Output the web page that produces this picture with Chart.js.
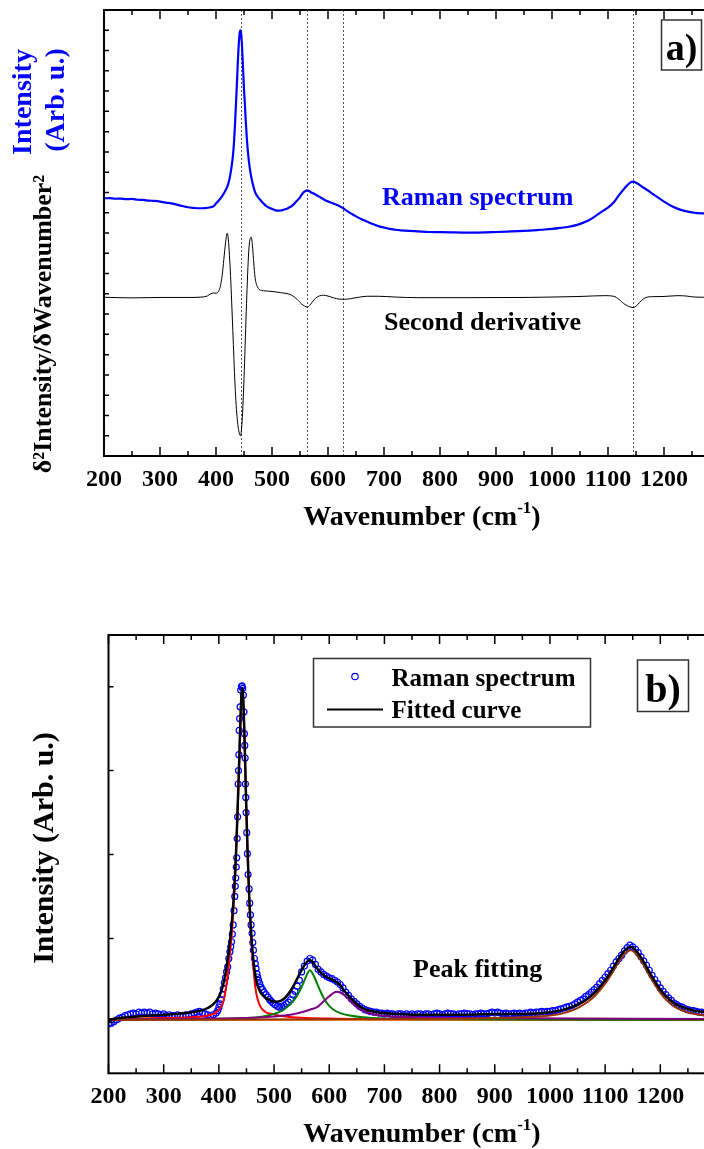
<!DOCTYPE html>
<html>
<head>
<meta charset="utf-8">
<script src="https://cdn.jsdelivr.net/npm/chart.js@4.4.1/dist/chart.umd.min.js"></script>
<style>
    html, body { margin: 0; padding: 0; background: #fff; overflow: hidden; width: 704px; height: 1149px; }
    canvas { position: absolute; left: 0; }
    #panelA { top: 0; }
    #panelB { top: 560px; }
</style>
</head>
<body>
<canvas id="panelA" width="724" height="560"></canvas>
<canvas id="panelB" width="724" height="589"></canvas>
<script>
// shared x axis
const xMajorTicks = [200, 300, 400, 500, 600, 700, 800, 900, 1000, 1100, 1200, 1300]
const xMinorTicks = [250, 350, 450, 550, 650, 750, 850, 950, 1050, 1150, 1250]
const xTickLabels = [200, 300, 400, 500, 600, 700, 800, 900, 1000, 1100, 1200]

// panel a) - Raman spectrum and its second derivative (arb. units)
const ramanAX = [200, 210, 220, 230, 240, 250, 260, 270, 280, 290, 300, 310, 320, 330, 340, 350, 360, 370, 380, 390,
    396, 400, 405, 410, 415, 420, 424, 427, 430, 432, 434, 436, 438, 440, 442, 443.5, 445, 446.5, 448, 450,
    451.5, 453, 455, 457, 460, 463, 466, 470, 475, 480, 485, 490, 495, 500, 505, 510, 515, 520, 525, 530,
    535, 540, 545, 550, 556, 560, 563, 567, 570, 575, 580, 585, 590, 595, 600, 605, 610, 615, 620, 627,
    633, 640, 650, 660, 670, 680, 690, 700, 710, 720, 730, 745, 760, 780, 800, 820, 840, 860, 880, 900,
    920, 940, 960, 980, 1000, 1015, 1030, 1045, 1055, 1065, 1075, 1085, 1095, 1100, 1110, 1120, 1130, 1138, 1145, 1152,
    1160, 1170, 1185, 1200, 1215, 1230, 1245, 1260, 1280, 1300]
const ramanAY = [12.71, 12.72, 12.69, 12.70, 12.67, 12.68, 12.64, 12.63, 12.60, 12.58, 12.55, 12.50, 12.46, 12.40, 12.33, 12.27, 12.24, 12.22, 12.23, 12.27,
    12.33, 12.45, 12.60, 12.78, 13.0, 13.27, 13.65, 14.11, 14.75, 15.4, 16.4, 17.56, 18.8, 20.0, 20.8, 21.0, 20.8, 20.2, 19.3, 18.1,
    17.4, 16.6, 15.7, 15.0, 14.26, 13.75, 13.38, 13.0, 12.77, 12.6, 12.45, 12.33, 12.25, 12.19, 12.13, 12.10, 12.11, 12.14, 12.18, 12.25,
    12.33, 12.45, 12.6, 12.76, 13.0, 13.07, 13.1, 13.06, 13.0, 12.94, 12.86, 12.78, 12.7, 12.62, 12.56, 12.5, 12.45, 12.4, 12.33, 12.23,
    12.1, 11.98, 11.82, 11.68, 11.56, 11.44, 11.34, 11.27, 11.2, 11.16, 11.13, 11.1, 11.08, 11.05, 11.04, 11.03, 11.02, 11.02, 11.03, 11.05,
    11.07, 11.09, 11.12, 11.16, 11.2, 11.25, 11.31, 11.4, 11.5, 11.62, 11.78, 11.98, 12.16, 12.25, 12.5, 12.88, 13.22, 13.45, 13.53, 13.45,
    13.3, 13.12, 12.83, 12.55, 12.31, 12.14, 12.04, 11.98, 11.96, 11.96]

const derivX = [200, 250, 300, 350, 375, 385, 390, 396, 401, 405, 408, 411, 414, 417, 420, 422, 424, 426, 428, 430,
    432, 434, 436, 438, 440, 442, 443.5, 445, 447, 449, 451, 453, 455, 457, 459, 461, 463, 465, 467, 469,
    471, 474, 478, 485, 495, 505, 515, 525, 535, 545, 553, 558, 563, 567, 572, 578, 585, 592, 600, 610,
    620, 630, 640, 655, 670, 690, 720, 760, 850, 950, 1000, 1050, 1095, 1110, 1120, 1128, 1137, 1145, 1152, 1160,
    1168, 1180, 1200, 1225, 1240, 1255, 1280, 1300]
const derivY = [7.83, 7.80, 7.82, 7.82, 7.84, 7.9, 8.0, 8.04, 8.03, 8.15, 8.4, 8.9, 9.7, 10.5, 10.99, 10.7, 9.9, 8.9, 7.6, 6.2,
    4.8, 3.5, 2.5, 1.8, 1.35, 1.08, 0.99, 1.15, 1.9, 3.1, 4.6, 6.3, 7.9, 9.3, 10.3, 10.72, 10.79, 10.4, 9.7, 9.0,
    8.6, 8.35, 8.2, 8.15, 8.13, 8.1, 8.06, 8.02, 7.94, 7.72, 7.5, 7.4, 7.34, 7.42, 7.6, 7.79, 7.9, 7.93, 7.89, 7.8,
    7.74, 7.73, 7.76, 7.83, 7.88, 7.88, 7.84, 7.81, 7.81, 7.82, 7.84, 7.87, 7.91, 7.88, 7.72, 7.52, 7.38, 7.32, 7.44, 7.68,
    7.82, 7.86, 7.87, 7.91, 7.89, 7.84, 7.83, 7.83]

const markerLines = [444, 563, 627, 1145]
const yTicksA = [1, 2, 3, 4, 5, 6, 7, 8, 9, 10, 11, 12, 13, 14, 15, 16, 17, 18, 19, 20, 21]

// panel b) - measured points, fitted curve and fitted components
const ramanBX = [200, 205, 210, 215, 220, 225, 230, 235, 240, 245, 250, 255, 260, 265, 270, 275, 280, 285, 290, 295,
    300, 305, 310, 315, 320, 325, 330, 335, 340, 345, 350, 355, 360, 365, 370, 375, 380, 385, 390, 395,
    398, 400, 402, 404, 406, 408, 410, 412, 414, 416, 418, 420, 421.5, 423, 424.5, 426, 427.5, 428.8, 429.8, 430.6,
    431.6, 432.4, 433.2, 434, 434.9, 435.6, 436.2, 436.8, 437.7, 438.5, 439.6, 441, 442.1, 443.3, 444.5, 445.5, 446.3, 447, 447.6, 448.1,
    448.8, 449.4, 450.5, 451.7, 453, 454.8, 455.9, 457.2, 458.4, 460.2, 461.5, 462.6, 464.4, 466, 467.5, 469, 470.4, 472, 474, 476.5,
    479, 482, 485.5, 489, 492, 495, 498, 502, 506, 510, 514, 518, 522, 526, 530, 534, 538, 542, 546,
    550, 555, 560, 565, 570, 575, 580, 585, 590, 595, 600, 605, 610, 615, 620, 625, 630, 635, 640, 645,
    650, 655, 660, 665, 670, 675, 680, 685, 690, 695, 700, 705, 710, 715, 720, 725, 730, 735, 740, 745,
    750, 755, 760, 765, 770, 775, 780, 785, 790, 795, 800, 805, 810, 815, 820, 825, 830, 835, 840, 845,
    850, 855, 860, 865, 870, 875, 880, 885, 890, 895, 900, 905, 910, 915, 920, 925, 930, 935, 940, 945,
    950, 955, 960, 965, 970, 975, 980, 985, 990, 995, 1000, 1005, 1010, 1015, 1020, 1025, 1030, 1035, 1040, 1045,
    1050, 1055, 1060, 1065, 1070, 1075, 1080, 1085, 1090, 1095, 1100, 1105, 1110, 1115, 1120, 1125, 1130, 1135, 1140, 1145,
    1150, 1155, 1160, 1165, 1170, 1175, 1180, 1185, 1190, 1195, 1200, 1205, 1210, 1215, 1220, 1225, 1230, 1235, 1240, 1245,
    1250, 1255, 1260, 1265, 1270, 1275, 1280, 1285, 1290, 1295, 1300]
const ramanBY = [-0.02, -0.01, 0.01, 0.03, 0.05, 0.06, 0.08, 0.09, 0.1, 0.11, 0.1, 0.12, 0.11, 0.12, 0.11, 0.12, 0.1, 0.11, 0.1, 0.09,
    0.1, 0.08, 0.09, 0.08, 0.08, 0.09, 0.08, 0.07, 0.09, 0.08, 0.1, 0.11, 0.12, 0.13, 0.11, 0.1, 0.09, 0.08, 0.09, 0.11,
    0.14, 0.18, 0.22, 0.27, 0.33, 0.4, 0.47, 0.53, 0.6, 0.66, 0.76, 0.84, 0.9, 0.96, 1.05, 1.16, 1.33, 1.5, 1.62, 1.72,
    1.85, 1.96, 2.19, 2.45, 2.84, 3.0, 3.19, 3.48, 3.62, 3.76, 3.96, 4.0, 4.01, 3.98, 3.9, 3.7, 3.44, 3.3, 3.15, 2.84,
    2.68, 2.5, 2.26, 2.01, 1.76, 1.59, 1.42, 1.28, 1.16, 1.06, 0.95, 0.86, 0.76, 0.7, 0.64, 0.58, 0.54, 0.5, 0.46, 0.42,
    0.39, 0.36, 0.33, 0.3, 0.27, 0.25, 0.23, 0.21, 0.19, 0.18, 0.19, 0.2, 0.22, 0.24, 0.27, 0.33, 0.37, 0.43, 0.5,
    0.6, 0.67, 0.73, 0.76, 0.74, 0.69, 0.63, 0.6, 0.57, 0.55, 0.53, 0.52, 0.5, 0.48, 0.45, 0.41, 0.36, 0.32, 0.28, 0.25,
    0.22, 0.19, 0.17, 0.15, 0.14, 0.13, 0.12, 0.12, 0.11, 0.11, 0.1, 0.11, 0.1, 0.1, 0.09, 0.1, 0.1, 0.09, 0.1, 0.09,
    0.1, 0.09, 0.1, 0.1, 0.09, 0.1, 0.1, 0.09, 0.1, 0.11, 0.1, 0.09, 0.1, 0.11, 0.1, 0.1, 0.09, 0.1, 0.1, 0.11,
    0.1, 0.1, 0.09, 0.1, 0.1, 0.11, 0.1, 0.1, 0.11, 0.12, 0.11, 0.12, 0.11, 0.1, 0.11, 0.1, 0.1, 0.11, 0.1, 0.11,
    0.1, 0.11, 0.11, 0.12, 0.11, 0.12, 0.12, 0.13, 0.12, 0.13, 0.13, 0.14, 0.14, 0.15, 0.16, 0.17, 0.18, 0.19, 0.2, 0.22,
    0.24, 0.26, 0.28, 0.31, 0.33, 0.36, 0.39, 0.42, 0.46, 0.5, 0.54, 0.58, 0.62, 0.67, 0.72, 0.76, 0.8, 0.85, 0.89, 0.92,
    0.9, 0.87, 0.83, 0.78, 0.73, 0.68, 0.62, 0.56, 0.51, 0.46, 0.41, 0.37, 0.33, 0.29, 0.26, 0.23, 0.21, 0.19, 0.18, 0.16,
    0.15, 0.14, 0.14, 0.13, 0.12, 0.12, 0.11, 0.11, 0.1, 0.1, 0.1]

const fitX = [200, 220, 250, 300, 340, 360, 380, 395, 405, 412, 418, 423, 427, 431, 434, 437, 439, 441, 442.5, 444,
    446, 448, 450, 452, 455, 458, 462, 466, 470, 476, 485, 495, 505, 515, 525, 535, 545, 555, 564, 570,
    577, 585, 595, 605, 613, 620, 628, 636, 645, 655, 667, 680, 697, 720, 760, 800, 850, 900, 950, 1000,
    1030, 1050, 1070, 1085, 1100, 1112, 1122, 1132, 1140, 1146, 1152, 1160, 1170, 1180, 1190, 1200, 1212, 1225, 1240, 1255,
    1270, 1285, 1300]
const fitY = [0.03, 0.05, 0.07, 0.09, 0.11, 0.13, 0.17, 0.25, 0.38, 0.58, 0.85, 1.15, 1.5, 2.0, 2.55, 3.15, 3.6, 3.9, 3.98, 3.88,
    3.5, 3.0, 2.5, 2.05, 1.5, 1.12, 0.78, 0.56, 0.44, 0.35, 0.29, 0.255, 0.245, 0.265, 0.33, 0.43, 0.56, 0.68, 0.74, 0.72,
    0.65, 0.59, 0.54, 0.51, 0.48, 0.44, 0.37, 0.31, 0.25, 0.19, 0.15, 0.13, 0.11, 0.1, 0.09, 0.09, 0.09, 0.1, 0.1, 0.12,
    0.16, 0.21, 0.29, 0.38, 0.5, 0.62, 0.73, 0.83, 0.88, 0.9, 0.88, 0.82, 0.72, 0.6, 0.49, 0.39, 0.3, 0.23, 0.18, 0.15,
    0.13, 0.12, 0.11]

const redX = [200, 300, 350, 380, 400, 410, 420, 425, 430, 435, 438, 440, 442, 444, 446, 448, 450, 452, 455, 458,
    462, 466, 470, 476, 485, 495, 520, 600, 800, 1300]
const redY = [0.04, 0.05, 0.06, 0.08, 0.15, 0.3, 0.8, 1.2, 1.8, 2.7, 3.3, 3.75, 3.96, 3.85, 3.5, 3.0, 2.45, 2.0, 1.45, 1.05,
    0.7, 0.42, 0.28, 0.18, 0.12, 0.1, 0.07, 0.045, 0.035, 0.03]

const greenX = [200, 400, 450, 480, 500, 515, 530, 540, 550, 557, 562, 565, 568, 573, 578, 584, 590, 598, 608, 620,
    637, 660, 700, 800, 1300]
const greenY = [0.03, 0.04, 0.05, 0.07, 0.1, 0.14, 0.22, 0.3, 0.42, 0.53, 0.6, 0.62, 0.6, 0.54, 0.46, 0.37, 0.29, 0.21, 0.15, 0.11,
    0.08, 0.06, 0.045, 0.035, 0.03]

const purpleX = [200, 400, 450, 500, 530, 550, 565, 578, 590, 600, 608, 614, 620, 628, 636, 645, 655, 667, 680, 700,
    750, 850, 1300]
const purpleY = [0.03, 0.045, 0.05, 0.07, 0.09, 0.12, 0.15, 0.18, 0.25, 0.31, 0.35, 0.365, 0.355, 0.32, 0.27, 0.21, 0.16, 0.12, 0.095, 0.075,
    0.06, 0.05, 0.04]

const brownX = [200, 800, 950, 1000, 1030, 1050, 1070, 1085, 1100, 1112, 1122, 1132, 1140, 1146, 1152, 1160, 1170, 1180, 1190, 1200,
    1212, 1225, 1240, 1255, 1270, 1285, 1300]
const brownY = [0.03, 0.04, 0.06, 0.08, 0.12, 0.17, 0.25, 0.34, 0.46, 0.58, 0.69, 0.79, 0.84, 0.86, 0.84, 0.78, 0.68, 0.56, 0.45, 0.35,
    0.26, 0.19, 0.14, 0.11, 0.09, 0.08, 0.07]

const orangeX = [200, 1300]
const orangeY = [0.03, 0.03]

const yTicksB = [0, 1, 2, 3, 4]

const serif = '"Liberation Serif", "Times New Roman", serif'

function toPoints(xs, ys) {
    return xs.map((x, i) => ({ x: x, y: ys[i] }))
}

function vText(ctx, text, x, y, size, color) {
    ctx.save()
    ctx.translate(x, y)
    ctx.rotate(-Math.PI / 2)
    ctx.font = 'bold ' + size + 'px ' + serif
    ctx.fillStyle = color
    ctx.textAlign = 'center'
    ctx.textBaseline = 'alphabetic'
    ctx.fillText(text, 0, 0)
    ctx.restore()
}

function hText(ctx, text, x, y, size, color, align) {
    ctx.font = 'bold ' + size + 'px ' + serif
    ctx.fillStyle = color
    ctx.textAlign = align || 'left'
    ctx.textBaseline = 'alphabetic'
    ctx.fillText(text, x, y)
}

function drawFrame(chart, yTicks, yTickLen) {
    const ctx = chart.ctx
    const area = chart.chartArea
    const xScale = chart.scales.x
    const yScale = chart.scales.y
    ctx.save()
    ctx.strokeStyle = '#000'
    ctx.lineWidth = 1.5
    ctx.beginPath()
    xMajorTicks.forEach(v => {
        const px = xScale.getPixelForValue(v)
        ctx.moveTo(px, area.bottom); ctx.lineTo(px, area.bottom - 9)
        ctx.moveTo(px, area.top); ctx.lineTo(px, area.top + 9)
    })
    xMinorTicks.forEach(v => {
        const px = xScale.getPixelForValue(v)
        ctx.moveTo(px, area.bottom); ctx.lineTo(px, area.bottom - 5)
        ctx.moveTo(px, area.top); ctx.lineTo(px, area.top + 5)
    })
    yTicks.forEach(v => {
        const py = yScale.getPixelForValue(v)
        ctx.moveTo(area.left, py); ctx.lineTo(area.left + yTickLen, py)
        ctx.moveTo(area.right, py); ctx.lineTo(area.right - yTickLen, py)
    })
    ctx.stroke()
    ctx.lineWidth = 2
    ctx.strokeRect(area.left, area.top, area.right - area.left, area.bottom - area.top)

    xTickLabels.forEach(v => hText(ctx, String(v), xScale.getPixelForValue(v), area.bottom + 30, 24, '#000', 'center'))

    // Wavenumber (cm^-1) with a real superscript
    const cx = (area.left + area.right) / 2 + 10
    const base = area.bottom + 69
    ctx.font = 'bold 28px ' + serif
    const w1 = ctx.measureText('Wavenumber (cm').width
    const w3 = ctx.measureText(')').width
    ctx.font = 'bold 17px ' + serif
    const w2 = ctx.measureText('-1').width
    let x0 = cx - (w1 + w2 + w3) / 2
    hText(ctx, 'Wavenumber (cm', x0, base, 28, '#000')
    hText(ctx, '-1', x0 + w1, base - 12, 17, '#000')
    hText(ctx, ')', x0 + w1 + w2, base, 28, '#000')
    ctx.restore()
}

function labelBox(ctx, text, left, top, right, bottom, size) {
    ctx.save()
    ctx.strokeStyle = '#333'
    ctx.lineWidth = 1.5
    ctx.strokeRect(left, top, right - left, bottom - top)
    hText(ctx, text, (left + right) / 2, bottom - 10, size, '#000', 'center')
    ctx.restore()
}

const panelAPlugin = {
    id: 'panelA',
    beforeDatasetsDraw(chart) {
        const ctx = chart.ctx
        const area = chart.chartArea
        ctx.save()
        ctx.strokeStyle = '#555'
        ctx.lineWidth = 1
        ctx.setLineDash([2, 2])
        ctx.beginPath()
        markerLines.forEach(v => {
            const px = Math.round(chart.scales.x.getPixelForValue(v)) + 0.5
            ctx.moveTo(px, area.top); ctx.lineTo(px, area.bottom)
        })
        ctx.stroke()
        ctx.restore()
    },
    afterDraw(chart) {
        const ctx = chart.ctx
        drawFrame(chart, yTicksA, 5)
        hText(ctx, 'Raman spectrum', 382, 205, 26, '#0000ff')
        hText(ctx, 'Second derivative', 384, 330, 26, '#000')
        labelBox(ctx, 'a)', 661.5, 20, 701.5, 70, 38)
        vText(ctx, 'Intensity', 31, 102, 28, '#0000ff')
        vText(ctx, '(Arb. u.)', 64, 100, 28, '#0000ff')
        vText(ctx, 'δ²Intensity/δWavenumber²', 51, 324, 26, '#000')
    }
}

const panelBPlugin = {
    id: 'panelB',
    afterDraw(chart) {
        const ctx = chart.ctx
        drawFrame(chart, yTicksB, 5)
        vText(ctx, 'Intensity (Arb. u.)', 53, 288, 30, '#000')
        hText(ctx, 'Peak fitting', 413, 417, 26, '#000')
        labelBox(ctx, 'b)', 637.5, 100, 688.5, 151.5, 40)

        // legend
        ctx.save()
        ctx.strokeStyle = '#333'
        ctx.lineWidth = 1.5
        ctx.strokeRect(313.5, 98.5, 277, 68.5)
        ctx.strokeStyle = '#0000ff'
        ctx.lineWidth = 1.2
        ctx.beginPath()
        ctx.arc(355, 116.5, 3.2, 0, Math.PI * 2)
        ctx.stroke()
        ctx.strokeStyle = '#000'
        ctx.lineWidth = 2
        ctx.beginPath()
        ctx.moveTo(327, 149.5); ctx.lineTo(383, 149.5)
        ctx.stroke()
        hText(ctx, 'Raman spectrum', 391.5, 126, 25, '#000')
        hText(ctx, 'Fitted curve', 391.5, 158, 25, '#000')
        ctx.restore()
    }
}

const lineStyle = (color, width, order) => ({
    showLine: true,
    borderColor: color,
    backgroundColor: color,
    borderWidth: width,
    pointRadius: 0,
    cubicInterpolationMode: 'monotone',
    order: order
})

new Chart(document.getElementById('panelA').getContext('2d'), {
    type: 'scatter',
    data: {
        datasets: [
            Object.assign({ label: 'Raman spectrum', data: toPoints(ramanAX, ramanAY) }, lineStyle('#0000ff', 2.2, 0)),
            Object.assign({ label: 'Second derivative', data: toPoints(derivX, derivY) }, lineStyle('#000', 1, 1))
        ]
    },
    options: {
        responsive: false,
        animation: false,
        devicePixelRatio: 1,
        layout: { padding: { left: 104, top: 10, right: 4, bottom: 104 } },
        plugins: { legend: { display: false }, tooltip: { enabled: false } },
        scales: {
            x: { type: 'linear', min: 200, max: 1300, display: false },
            y: { type: 'linear', min: 0, max: 22, display: false }
        }
    },
    plugins: [panelAPlugin]
});

new Chart(document.getElementById('panelB').getContext('2d'), {
    type: 'scatter',
    data: {
        datasets: [
            Object.assign({ label: 'Fitted curve', data: toPoints(fitX, fitY) }, lineStyle('#000', 2.5, 0)),
            Object.assign({ label: 'Peak 1145', data: toPoints(brownX, brownY) }, lineStyle('#993300', 2, 1)),
            Object.assign({ label: 'Peak 615', data: toPoints(purpleX, purpleY) }, lineStyle('#800080', 2, 2)),
            Object.assign({ label: 'Peak 563', data: toPoints(greenX, greenY) }, lineStyle('#008000', 2, 3)),
            Object.assign({ label: 'Peak 444', data: toPoints(redX, redY) }, lineStyle('#ff0000', 2, 4)),
            Object.assign({ label: 'Background', data: toPoints(orangeX, orangeY) }, lineStyle('#ff8000', 2, 5)),
            {
                label: 'Raman spectrum',
                data: toPoints(ramanBX, ramanBY),
                showLine: false,
                pointStyle: 'circle',
                pointRadius: 3,
                pointBorderWidth: 1.2,
                pointBorderColor: '#0000ff',
                pointBackgroundColor: 'rgba(0,0,0,0)',
                order: 6
            }
        ]
    },
    options: {
        responsive: false,
        animation: false,
        devicePixelRatio: 1,
        layout: { padding: { left: 108.5, top: 75, right: 8.5, bottom: 75.7 } },
        plugins: { legend: { display: false }, tooltip: { enabled: false } },
        scales: {
            x: { type: 'linear', min: 200, max: 1300, display: false },
            y: { type: 'linear', min: -0.608, max: 4.616, display: false }
        }
    },
    plugins: [panelBPlugin]
});
</script>
</body>
</html>
